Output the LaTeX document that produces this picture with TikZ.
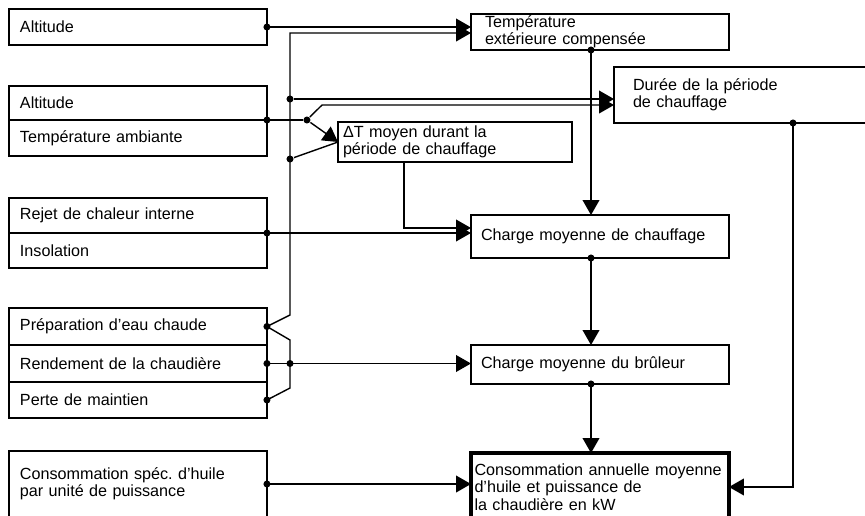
\documentclass[tikz,border=0pt]{standalone}
\usepackage{fontspec}
\newfontfamily\diafont{Liberation Sans}
\usetikzlibrary{positioning,arrows.meta}

\begin{document}
\begin{tikzpicture}[x=0.02cm, y=-0.02cm, line width=0.8pt,
    blk/.style={draw, line width=0.9pt, anchor=north west, outer sep=0pt, inner xsep=0.22cm, inner ysep=0pt, align=left, text width=4.72cm, font=\diafont\fontsize{9.2}{9.8}\selectfont},
    arr/.style={-{Triangle[length=8.5pt, width=9.5pt]}},
    dot/.style={circle, fill, inner sep=0pt, minimum size=4pt}]

    \useasboundingbox (0,0) rectangle (865,515);

    % Input boxes (left column)
    \node[blk, minimum height=0.72cm] (alt1) at (9,9) {Altitude};
    \node[blk, minimum height=0.68cm] (alt2) at (9,86) {Altitude};
    \node[blk, minimum height=0.72cm, below=0pt of alt2] (tamb) {Température ambiante};
    \node[blk, minimum height=0.70cm] (rejet) at (9,198) {Rejet de chaleur interne};
    \node[blk, minimum height=0.70cm, below=0pt of rejet] (insol) {Insolation};
    \node[blk, minimum height=0.74cm] (prep) at (9,308) {Préparation d’eau chaude};
    \node[blk, minimum height=0.74cm, below=0pt of prep] (rend) {Rendement de la chaudière};
    \node[blk, minimum height=0.72cm, below=0pt of rend] (perte) {Perte de maintien};
    \node[blk, minimum height=1.32cm] (cspec) at (9,451) {Consommation spéc.\ d’huile\\par unité de puissance};

    % Results
    \node[blk, text width=4.6cm, inner xsep=0.28cm, minimum height=0.72cm] (tec) at (471,14) {Température\\extérieure compensée};
    \node[blk, text width=4.36cm, inner xsep=0.38cm, minimum height=1.12cm] (duree) at (614,67) {Durée de la période\\de chauffage};
    \node[blk, text width=4.48cm, inner xsep=0.1cm, minimum height=0.8cm] (dtmoy) at (338,122) {ΔT moyen durant la\\période de chauffage};
    \node[blk, text width=4.76cm, inner xsep=0.2cm, minimum height=0.86cm] (chauff) at (471,215) {Charge moyenne de chauffage};
    \node[blk, text width=4.76cm, inner xsep=0.2cm, minimum height=0.78cm] (brul) at (471,345) {Charge moyenne du brûleur};
    \node[blk, line width=2pt, text width=5.02cm, inner xsep=0.07cm, minimum height=1.36cm] (conso) at (471,453) {Consommation annuelle moyenne\\d’huile et puissance de\\la chaudière en kW};

    % Bends and junctions
    \coordinate (bt) at (290,33);
    \coordinate (bb) at (290,315);
    \coordinate (cx) at (591,0);
    \coordinate (dx) at (793,0);
    \coordinate (k1) at (322,105);
    \coordinate (k2) at (404,228);
    \coordinate (p1) at (290,340);
    \coordinate (p2) at (290,388);
    \node[dot] (j1) at (290,99) {};
    \node[dot] (j2) at (290,159) {};
    \node[dot] (j3) at ([xshift=0.8cm]alt2.south east) {};
    \node[dot] (j4) at (rend.east -| p1) {};

    % Connections
    \draw[arr] (alt1.east) -- (alt1.east -| tec.west);
    \draw[arr] (prep.east) -- (bb) -- (bt) -- (bt -| tec.west);
    \draw[arr] (j1) -- (j1 -| duree.west);
    \draw (j2) -- (dtmoy.west);
    \draw (alt2.south east) -- (j3);
    \draw[arr] (j3) -- (k1) -- (k1 -| duree.west);
    \draw[arr] (j3) -- (dtmoy.west);
    \draw[arr] (dtmoy.south -| k2) -- (k2) -- (k2 -| chauff.west);
    \draw[arr] (rejet.south east) -- (rejet.south east -| chauff.west);
    \draw[arr] (tec.south -| cx) -- (chauff.north -| cx);
    \draw[arr] (chauff.south -| cx) -- (brul.north -| cx);
    \draw[arr] (brul.south -| cx) -- (conso.north -| cx);
    \draw (prep.east) -- (p1) -- (p2) -- (perte.east);
    \draw[arr] (rend.east) -- (rend.east -| brul.west);
    \draw[arr] (cspec.east) -- (cspec.east -| conso.west);
    \draw[arr] (duree.south -| dx) -- (conso.east -| dx) -- (conso.east);

    \foreach \p [count=\i] in {alt1.east, alt2.south east, rejet.south east, prep.east, rend.east, perte.east, cspec.east, tec.south -| cx, chauff.south -| cx, brul.south -| cx, duree.south -| dx}
        \node[dot] (d\i) at (\p) {};

\end{tikzpicture}
\end{document}
